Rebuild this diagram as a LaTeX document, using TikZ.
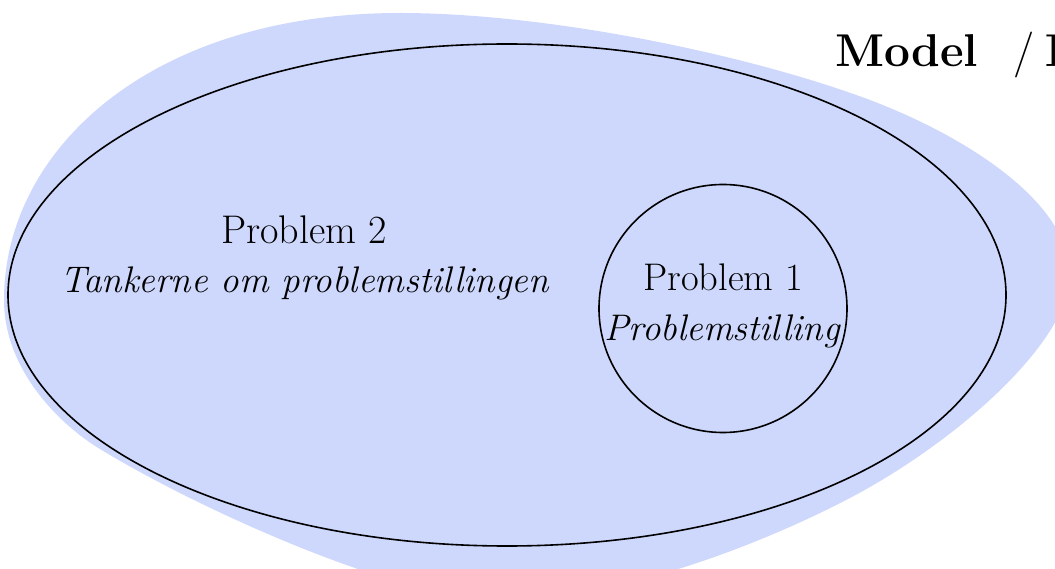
\documentclass[tikz,border=0pt]{standalone}
\usetikzlibrary{shapes.geometric}
\definecolor{blobblue}{RGB}{206,216,252}
\tikzset{
  outline/.style={draw=black, line width=1.6pt},
  lbl/.style={inner sep=0pt, anchor=base, font=\fontsize{40}{46}\selectfont},
  lblit/.style={lbl, font=\fontsize{37}{44}\selectfont\itshape},
  ttl/.style={inner sep=0pt, anchor=base west, font=\fontsize{46}{52}\selectfont\bfseries}
}
\begin{document}
\begin{tikzpicture}[x=1pt,y=-1pt]
\useasboundingbox (0,0) rectangle (1055,569);
\clip (0,0) rectangle (1055,569);
% background blob
\fill[blobblue] (4,300)
  .. controls (4,150) and (150,13) .. (400,13)
  .. controls (550,13) and (750,55) .. (870,100)
  .. controls (960,134) and (1070,200) .. (1070,275)
  .. controls (1070,340) and (960,440) .. (850,498)
  .. controls (762,544) and (620,600) .. (500,600)
  .. controls (400,600) and (200,510) .. (100,449)
  .. controls (60,425) and (4,370) .. (4,300) -- cycle;
% outer ellipse and inner circle
\node[outline, ellipse, minimum width=998pt, minimum height=502pt, inner sep=0pt] (outer) at (507,295) {};
\node[outline, circle, minimum size=248pt, inner sep=0pt] (inner) at (723,308.5) {};
% labels
\node[lbl] (p2a) at (304,244) {Problem 2};
\node[lblit] (p2b) at (304.5,293) {Tankerne om problemstillingen};
\node[lbl, font=\fontsize{38.5}{44}\selectfont] (p1a) at (723,291) {Problem 1};
\node[lblit, font=\fontsize{37}{44}\selectfont\itshape] (p1b) at (722,341) {Problemstilling};
% title
\node[ttl] (t1) at (835,67) {Model};
\node[ttl, font=\fontsize{46}{52}\selectfont] (t2) at (1013,67) {/};
\node[ttl] (t3) at (1045,67) {I};
\end{tikzpicture}
\end{document}
